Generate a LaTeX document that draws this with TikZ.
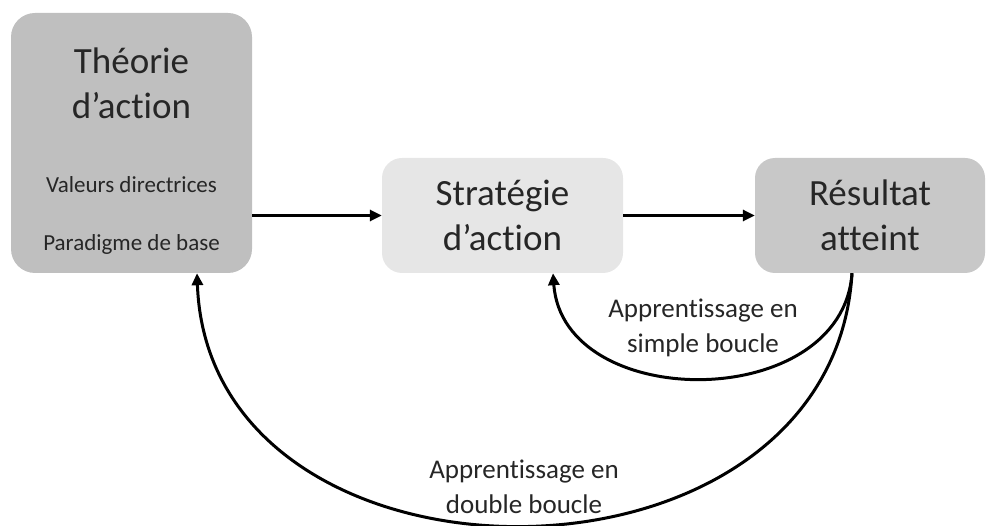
\documentclass[tikz,border=0pt]{standalone}
\usepackage{fontspec}
\setmainfont{Carlito}[RawFeature={-liga}]
\usetikzlibrary{arrows.meta,calc}

\definecolor{boxdark}{HTML}{BFBFBF}
\definecolor{boxmid}{HTML}{C8C8C8}
\definecolor{boxlight}{HTML}{E6E6E6}
\definecolor{ink}{HTML}{262626}

\tikzset{
  panel/.style={rounded corners=24pt, draw=none, inner sep=0pt, align=center,
                text=ink, font=\fontsize{37}{45}\selectfont},
  title/.style={align=center, text=ink, font=\fontsize{37}{45}\selectfont},
  detail/.style={align=center, text=ink, font=\fontsize{23}{28}\selectfont},
  loopnote/.style={align=center, text=ink, font=\fontsize{27}{35}\selectfont},
  flow/.style={line width=3pt, -{Triangle[length=12pt,width=11pt]}},
}

\begin{document}
\begin{tikzpicture}[x=1pt,y=1pt]
  \useasboundingbox (0,0) rectangle (987,525);

  % the three stages
  \node[panel, fill=boxdark, minimum width=241pt, minimum height=260pt]
    (theo) at (131.5,382) {};
  \node[title] (theoT) at (131.5,442) {Théorie\\d’action};
  \node[detail] (theoV) at (131.5,340) {Valeurs directrices};
  \node[detail] (theoP) at (131.5,281) {Paradigme de base};

  \node[panel, fill=boxlight, rounded corners=20pt, minimum width=241pt, minimum height=115pt]
    (strat) at (502.5,309.5) {Stratégie\\d’action};
  \node[panel, fill=boxmid, rounded corners=20pt, minimum width=230pt, minimum height=115pt]
    (res) at (870,309.5) {Résultat\\atteint};

  % main flow
  \draw[flow] (theo.east |- strat.west) -- (strat.west);
  \draw[flow] (strat.east) -- (res.west);

  % feedback loops
  \coordinate (fb) at ($(res.south)+(-18,0)$);
  \coordinate (sTip) at ($(strat.south)+(50.5,0)$);
  \coordinate (tTip) at ($(theo.south)+(65.5,0)$);

  \draw[flow] (fb) .. controls +(-10,-140) and +(10,-140) .. (sTip);
  \draw[flow] (fb) .. controls +(-20,-336) and +(12,-336) .. (tTip);

  \node[loopnote] (single) at (703,197) {Apprentissage en\\simple boucle};
  \node[loopnote] (double) at (524,38) {Apprentissage en\\double boucle};
\end{tikzpicture}
\end{document}
